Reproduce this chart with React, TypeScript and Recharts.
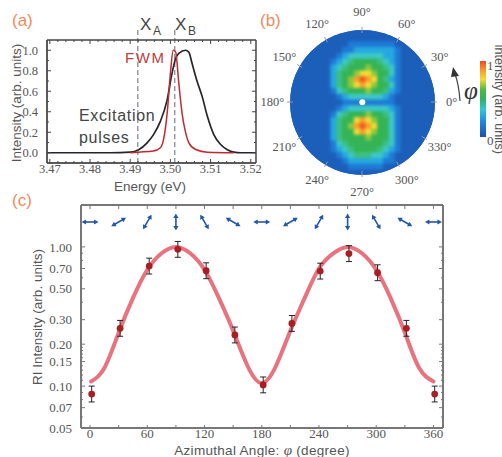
import React from "react";
import {
  ComposedChart,
  ErrorBar,
  Line,
  LineChart,
  PolarAngleAxis,
  Radar,
  RadarChart,
  ReferenceLine,
  Scatter,
  ScatterChart,
  XAxis,
  YAxis,
} from "recharts";

// panel (a)
const excitationE = [3.469, 3.485, 3.49, 3.4921, 3.4942, 3.4958, 3.4975, 3.4992, 3.5004, 3.5013, 3.5021, 3.5038, 3.5046, 3.5054, 3.5067, 3.5079, 3.5092, 3.5108, 3.5125, 3.5142, 3.5158, 3.5175, 3.5213];
const excitationI = [0, 0, 0.006, 0.03, 0.097, 0.177, 0.306, 0.516, 0.774, 0.919, 0.97, 1.0, 0.98, 0.87, 0.69, 0.55, 0.355, 0.177, 0.08, 0.03, 0.006, 0, 0];
const fwmE = [3.49, 3.4921, 3.4958, 3.4975, 3.4983, 3.4992, 3.5, 3.5007, 3.5013, 3.5021, 3.5029, 3.5038, 3.5046, 3.5063, 3.5092, 3.5158];
const fwmI = [0, 0.006, 0.016, 0.048, 0.13, 0.387, 0.774, 1.0, 0.984, 0.677, 0.387, 0.194, 0.097, 0.032, 0.006, 0];
const energyTicks = [3.47, 3.48, 3.49, 3.5, 3.51, 3.52];
const energyMinor = [3.472, 3.474, 3.476, 3.478, 3.482, 3.484, 3.486, 3.488, 3.492, 3.494, 3.496, 3.498, 3.502, 3.504, 3.506, 3.508, 3.512, 3.514, 3.516, 3.518];
const intensityTicks = [0, 0.2, 0.4, 0.6, 0.8, 1.0];
const intensityMinor = [0.1, 0.3, 0.5, 0.7, 0.9];
const resonances = [3.4919, 3.5011];

// panel (b), intensity level 0-9 per cell, read row by row
const diskRows = [
  "0000000000000000000000000",
  "0000000000000000000000000",
  "0000000000111111110000000",
  "0000000001122222221000000",
  "0000000012333333221000000",
  "0000000123455554321000000",
  "0000000234555655431000000",
  "0000000245567765531000000",
  "0000000245689875421000000",
  "0000000245678765531000000",
  "0000000134555655421000000",
  "0000000012333333210000000",
  "0000000001111111110000000",
  "0000000012333333321000000",
  "0000000134555655431000000",
  "0000000245578765531000000",
  "0000000245689875531000000",
  "0000000245578765531000000",
  "0000000245555655531000000",
  "0000000134555555431000000",
  "0000000123455554321000000",
  "0000000012344433210000000",
  "0000000001222222110000000",
  "0000000000111111000000000",
  "0000000000000000000000000",
];
const levelColors = ["#1c5fba", "#1f7ad6", "#25a8e0", "#3cc8c8", "#3cbf82", "#34b455", "#8ec83c", "#f2dc38", "#f6a02c", "#ee5a20"];
const polarAngles = [0, 30, 60, 90, 120, 150, 180, 210, 240, 270, 300, 330];

// panel (c)
const curvePhi = [1, 15, 30, 45, 60, 75, 90, 105, 120, 135, 150, 165, 180, 195, 210, 225, 240, 255, 270, 285, 300, 315, 330, 345, 360];
const curveRI = [0.108, 0.135, 0.242, 0.43, 0.685, 0.9, 1.0, 0.9, 0.685, 0.43, 0.25, 0.14, 0.105, 0.14, 0.25, 0.43, 0.7, 0.9, 1.0, 0.9, 0.685, 0.43, 0.242, 0.135, 0.108];
const pointPhi = [1.7, 31.5, 62, 92, 121.7, 151.8, 181.5, 211.6, 241.3, 271.4, 301.4, 331.6, 361.3];
const pointRI = [0.0877, 0.26, 0.728, 0.96, 0.674, 0.233, 0.102, 0.282, 0.67, 0.895, 0.652, 0.26, 0.0877];
const errorRatio = 1.14;
const arrowPhi = [0, 30, 60, 90, 120, 150, 180, 210, 240, 270, 300, 330, 360];
const arrowLevel = 1.51;
const phiTicks = [0, 60, 120, 180, 240, 300, 360];
const phiAllTicks = [0, 30, 60, 90, 120, 150, 180, 210, 240, 270, 300, 330, 360];
const riTicks = [0.05, 0.07, 0.1, 0.15, 0.2, 0.3, 0.5, 0.7, 1.0];
const riMinor = [0.06, 0.08, 0.09, 0.11, 0.12, 0.13, 0.14, 0.16, 0.17, 0.18, 0.19, 0.4, 0.6, 0.8, 0.9];

const excitationRows = excitationE.map((x, i) => ({ x, y: excitationI[i] }));
const fwmRows = fwmE.map((x, i) => ({ x, y: fwmI[i] }));
const curveRows = curvePhi.map((x, i) => ({ x, y: curveRI[i] }));
const pointRows = pointPhi.map((x, i) => ({
  x,
  y: pointRI[i],
  err: [pointRI[i] - pointRI[i] / errorRatio, pointRI[i] * errorRatio - pointRI[i]],
}));
const arrowRows = arrowPhi.map((x) => ({ x, y: arrowLevel, phi: x }));
const diskCells = diskRows.flatMap((row, r) =>
  row.split("").map((level, c) => ({ x: c + 0.5, y: 24.5 - r, level: Number(level) }))
);
const angleRows = polarAngles.map((angle) => ({ angle, r: 0 }));

const SERIF = "'Liberation Serif', serif";
const SANS = "'Liberation Sans', sans-serif";
const GREY = "#555";
const ORANGE = "#ee8a5c";

const panelABox = { left: 0, top: 0, width: 262, height: 190 };
const panelCBox = { left: 0, top: 190, width: 460, height: 267 };
const ENERGY_DOMAIN = [3.4693, 3.5213];
const FRAME_A = "#444";
const FRAME_C = "#777";
// an axis of size 0 is not drawn at all
const THIN = 0.01;

const NoLabel = () => <g />;

const XFrame = (id: string, orientation: "top" | "bottom", ticks: number[], size: number, domain: number[], color: string, width: number) => (
  <XAxis
    key={id}
    xAxisId={id}
    orientation={orientation}
    mirror
    height={THIN}
    type="number"
    dataKey="x"
    domain={domain}
    ticks={ticks}
    interval={0}
    tick={NoLabel}
    tickSize={size}
    allowDataOverflow
    stroke={color}
    axisLine={{ stroke: color, strokeWidth: width }}
    tickLine={{ stroke: color, strokeWidth: 1 }}
  />
);

const YFrame = (id: string, orientation: "left" | "right", ticks: number[], size: number, domain: number[], color: string, width: number, scale?: "log") => (
  <YAxis
    key={id}
    yAxisId={id}
    orientation={orientation}
    mirror
    width={THIN}
    type="number"
    domain={domain}
    scale={scale}
    ticks={ticks}
    interval={0}
    tick={NoLabel}
    tickSize={size}
    allowDataOverflow
    stroke={color}
    axisLine={{ stroke: color, strokeWidth: width }}
    tickLine={{ stroke: color, strokeWidth: 1 }}
  />
);

const DiskCell = (props: any) => (
  <rect x={props.cx - 3.4} y={props.cy - 3.4} width={6.8} height={6.8} fill={levelColors[props.payload.level]} />
);

const AngleTick = (props: any) => {
  const dx = props.x - 115;
  const dy = props.y - 115;
  const len = Math.hypot(dx, dy) || 1;
  const ux = dx / len;
  const uy = dy / len;
  return (
    <g>
      <line x1={115 + ux * 69} y1={115 + uy * 69} x2={115 + ux * 75} y2={115 + uy * 75} stroke="#99a" strokeWidth={1} />
      <text x={props.x} y={props.y} textAnchor="middle" dominantBaseline="central" fontFamily={SERIF} fontSize={12.5} fill={GREY}>
        {props.payload.value}°
      </text>
    </g>
  );
};

const DataPoint = (props: any) => <circle cx={props.cx} cy={props.cy} r={3.4} fill="#a81e22" />;

const PolArrow = (props: any) => (
  <g transform={`translate(${props.cx},${props.cy}) rotate(${-props.payload.phi})`} fill="#2456a8">
    <rect x={-6} y={-0.8} width={12} height={1.6} />
    <polygon points="-8.5,0 -4,-2.6 -4,2.6" />
    <polygon points="8.5,0 4,-2.6 4,2.6" />
  </g>
);

const Annotations = () => (
  <svg width={502} height={457} style={{ position: "absolute", left: 0, top: 0, pointerEvents: "none" }}>
    <defs>
      <linearGradient id="scale" x1="0" y1="1" x2="0" y2="0">
        <stop offset="0" stopColor="#1a50b0" />
        <stop offset="0.2" stopColor="#1e88dc" />
        <stop offset="0.36" stopColor="#30c8d8" />
        <stop offset="0.5" stopColor="#30b060" />
        <stop offset="0.62" stopColor="#50b840" />
        <stop offset="0.76" stopColor="#f0dc38" />
        <stop offset="0.88" stopColor="#f69a2c" />
        <stop offset="1" stopColor="#f04a20" />
      </linearGradient>
    </defs>
    <g fontFamily={SANS} fontSize={17} fill={ORANGE}>
      <text x={12} y={26}>(a)</text>
      <text x={260} y={26}>(b)</text>
      <text x={12} y={206}>(c)</text>
    </g>
    <g fontFamily={SANS} fill="#444">
      <text x={140} y={30} fontSize={17}>X</text>
      <text x={153} y={35} fontSize={12}>A</text>
      <text x={175} y={30} fontSize={17}>X</text>
      <text x={188} y={35} fontSize={12}>B</text>
      <text x={79} y={121} fontSize={16} letterSpacing={0.7}>Excitation</text>
      <text x={79} y={143} fontSize={16} letterSpacing={0.7}>pulses</text>
      <text x={125} y={63} fontSize={15} fill="#c0403c" letterSpacing={1.6}>FWM</text>
      <text x={150} y={191} fontSize={13.5} textAnchor="middle" fill={GREY}>Energy (eV)</text>
      <text transform="translate(21,103) rotate(-90)" fontSize={13.5} textAnchor="middle" fill={GREY}>Intensity (arb. units)</text>
      <text transform="translate(42,317) rotate(-90)" fontSize={13.5} textAnchor="middle" fill={GREY}>RI Intensity (arb. units)</text>
      <text x={262} y={455} fontSize={13.5} textAnchor="middle" fill={GREY} letterSpacing={0.3}>
        Azimuthal Angle: <tspan fontFamily={SERIF} fontStyle="italic" fontSize={15}>φ</tspan> (degree)
      </text>
      <text transform="translate(495,99) rotate(90)" fontSize={12.5} textAnchor="middle" fill={GREY}>Intensity (arb. units)</text>
    </g>
    <circle cx={362.3} cy={102.3} r={3} fill="#fff" />
    <rect x={480} y={61} width={6} height={76} fill="url(#scale)" />
    <g fontFamily={SERIF} fontSize={13} fill={GREY}>
      <text x={487} y={70}>1</text>
      <text x={487} y={145}>0</text>
    </g>
    <path d="M460 101 Q459 85 455 74" fill="none" stroke="#444" strokeWidth={1.2} />
    <polygon points="453,67 459,76 451,77" fill="#333" />
    <text x={464} y={99} fontFamily={SERIF} fontStyle="italic" fontSize={25} fill="#333">φ</text>
  </svg>
);

export default function App() {
  return (
    <div style={{ position: "absolute", left: 0, top: 0, width: 502, height: 457, overflow: "hidden", background: "#fff" }}>
      <div style={{ position: "absolute", ...panelABox }}>
        <LineChart width={panelABox.width} height={panelABox.height} margin={{ top: 40, right: 6, bottom: 0, left: 0 }}>
          <XAxis
            xAxisId="e"
            type="number"
            dataKey="x"
            domain={ENERGY_DOMAIN}
            ticks={energyTicks}
            interval={0}
            height={27}
            allowDataOverflow
            tickLine={false}
            axisLine={{ stroke: FRAME_A }}
            tickMargin={0}
            tickSize={1}
            tickFormatter={(v: number) => v.toFixed(2)}
            tick={{ fontFamily: SERIF, fontSize: 12.5, fill: GREY }}
          />
          <YAxis
            yAxisId="i"
            type="number"
            domain={[-0.1, 1.1]}
            ticks={intensityTicks}
            interval={0}
            width={47}
            allowDataOverflow
            tickLine={false}
            axisLine={{ stroke: FRAME_A }}
            tickMargin={3}
            tickFormatter={(v: number) => v.toFixed(1)}
            tick={{ fontFamily: SERIF, fontSize: 12.5, fill: GREY }}
          />
          {XFrame("eb", "bottom", energyTicks, 4, ENERGY_DOMAIN, FRAME_A, 1)}
          {XFrame("ebm", "bottom", energyMinor, 2, ENERGY_DOMAIN, FRAME_A, 1)}
          {XFrame("et", "top", energyTicks, 4, ENERGY_DOMAIN, FRAME_A, 1)}
          {XFrame("etm", "top", energyMinor, 2, ENERGY_DOMAIN, FRAME_A, 1)}
          {YFrame("il", "left", intensityTicks, 4, [-0.1, 1.1], FRAME_A, 1)}
          {YFrame("ilm", "left", intensityMinor, 2, [-0.1, 1.1], FRAME_A, 1)}
          {YFrame("ir", "right", intensityTicks, 4, [-0.1, 1.1], FRAME_A, 1)}
          {YFrame("irm", "right", intensityMinor, 2, [-0.1, 1.1], FRAME_A, 1)}
          {resonances.map((e) => (
            <ReferenceLine
              key={e}
              xAxisId="e"
              yAxisId="i"
              segment={[{ x: e, y: -0.1 }, { x: e, y: 1.22 }]}
              ifOverflow="visible"
              stroke="#667"
              strokeDasharray="5 3"
            />
          ))}
          <Line xAxisId="e" yAxisId="i" data={excitationRows} dataKey="y" type="monotone" stroke="#26262a" strokeWidth={1.7} dot={false} isAnimationActive={false} />
          <Line xAxisId="e" yAxisId="i" data={fwmRows} dataKey="y" type="monotone" stroke="#c02a30" strokeWidth={1.5} dot={false} isAnimationActive={false} />
        </LineChart>
      </div>

      <div style={{ position: "absolute", left: 289.5, top: 29.5, width: 145.6, height: 145.6, borderRadius: "50%", overflow: "hidden", background: levelColors[0] }}>
        <div style={{ filter: "blur(1.6px)" }}>
          <ScatterChart width={146} height={146} margin={{ top: 0, right: 0, bottom: 0, left: 0 }}>
            <XAxis type="number" dataKey="x" domain={[0, 25]} hide />
            <YAxis type="number" dataKey="y" domain={[0, 25]} hide />
            <Scatter data={diskCells} shape={DiskCell} isAnimationActive={false} />
          </ScatterChart>
        </div>
      </div>
      <div style={{ position: "absolute", left: 247, top: -13 }}>
        <RadarChart width={230} height={230} data={angleRows} cx={115} cy={115} outerRadius={72.7} startAngle={30} endAngle={390} margin={{ top: 0, right: 0, bottom: 0, left: 0 }}>
          <PolarAngleAxis dataKey="angle" tickSize={17} tickLine={false} axisLine={false} tick={AngleTick} />
          <Radar dataKey="r" fill="none" stroke="none" isAnimationActive={false} />
        </RadarChart>
      </div>

      <div style={{ position: "absolute", ...panelCBox }}>
        <ComposedChart width={panelCBox.width} height={panelCBox.height} margin={{ top: 15, right: 17, bottom: 0, left: 0 }}>
          <XAxis
            xAxisId="p"
            type="number"
            dataKey="x"
            domain={[-9.5, 370]}
            ticks={phiTicks}
            interval={0}
            height={29}
            allowDataOverflow
            tickLine={false}
            axisLine={{ stroke: FRAME_C, strokeWidth: 2 }}
            tickMargin={0}
            tickSize={1}
            tick={{ fontFamily: SERIF, fontSize: 13, fill: GREY }}
          />
          <YAxis
            yAxisId="r"
            type="number"
            scale="log"
            domain={[0.05, 2]}
            ticks={riTicks}
            interval={0}
            width={81}
            allowDataOverflow
            tickLine={false}
            axisLine={{ stroke: FRAME_C, strokeWidth: 2 }}
            tickMargin={3}
            tickFormatter={(v: number) => v.toFixed(2)}
            tick={{ fontFamily: SERIF, fontSize: 13, fill: GREY }}
          />
          {XFrame("pb", "bottom", phiAllTicks, 3, [-9.5, 370], FRAME_C, 2)}
          {XFrame("pt", "top", phiAllTicks, 4, [-9.5, 370], FRAME_C, 2)}
          {YFrame("rl", "left", riTicks, 4, [0.05, 2], FRAME_C, 2, "log")}
          {YFrame("rlm", "left", riMinor, 2, [0.05, 2], FRAME_C, 2, "log")}
          {YFrame("rr", "right", riTicks, 4, [0.05, 2], FRAME_C, 2, "log")}
          {YFrame("rrm", "right", riMinor, 2, [0.05, 2], FRAME_C, 2, "log")}
          <Line xAxisId="p" yAxisId="r" data={curveRows} dataKey="y" type="natural" stroke="#e8727e" strokeWidth={4} strokeLinecap="round" dot={false} isAnimationActive={false} />
          <Scatter xAxisId="p" yAxisId="r" data={pointRows} dataKey="y" shape={DataPoint} isAnimationActive={false}>
            <ErrorBar dataKey="err" direction="y" width={3} stroke="#222" strokeWidth={1} />
          </Scatter>
          <Scatter xAxisId="p" yAxisId="r" data={arrowRows} dataKey="y" shape={PolArrow} isAnimationActive={false} />
        </ComposedChart>
      </div>

      <Annotations />
    </div>
  );
}
